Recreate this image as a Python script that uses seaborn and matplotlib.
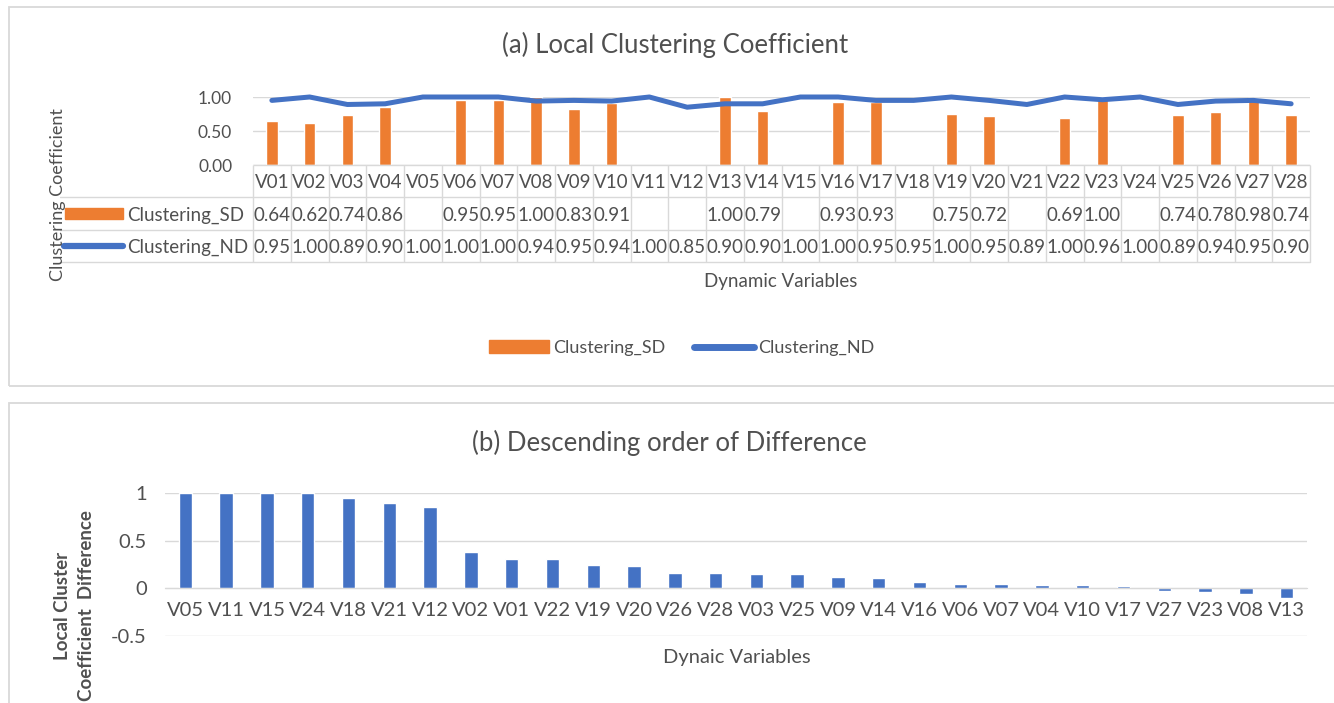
import numpy as np
import pandas as pd
import matplotlib
matplotlib.use("Agg")
import matplotlib.pyplot as plt
import matplotlib.transforms as mtransforms
from matplotlib.patches import Rectangle, Patch
from matplotlib.lines import Line2D
import seaborn as sns

# ---------------------------------------------------------------
# data
# ---------------------------------------------------------------
variables = ["V01", "V02", "V03", "V04", "V05", "V06", "V07", "V08", "V09", "V10",
             "V11", "V12", "V13", "V14", "V15", "V16", "V17", "V18", "V19", "V20",
             "V21", "V22", "V23", "V24", "V25", "V26", "V27", "V28"]
clustering_sd = [0.64, 0.62, 0.74, 0.86, None, 0.95, 0.95, 1.00, 0.83, 0.91,
                 None, None, 1.00, 0.79, None, 0.93, 0.93, None, 0.75, 0.72,
                 None, 0.69, 1.00, None, 0.74, 0.78, 0.98, 0.74]
clustering_nd = [0.95, 1.00, 0.89, 0.90, 1.00, 1.00, 1.00, 0.94, 0.95, 0.94,
                 1.00, 0.85, 0.90, 0.90, 1.00, 1.00, 0.95, 0.95, 1.00, 0.95,
                 0.89, 1.00, 0.96, 1.00, 0.89, 0.94, 0.95, 0.90]

diff_order = ["V05", "V11", "V15", "V24", "V18", "V21", "V12", "V02", "V01", "V22",
              "V19", "V20", "V26", "V28", "V03", "V25", "V09", "V14", "V16", "V06",
              "V07", "V04", "V10", "V17", "V27", "V23", "V08", "V13"]
diff_values = [1.00, 1.00, 1.00, 1.00, 0.95, 0.89, 0.85, 0.38, 0.31, 0.31,
               0.25, 0.23, 0.16, 0.16, 0.15, 0.15, 0.12, 0.11, 0.07, 0.05,
               0.05, 0.04, 0.03, 0.02, -0.03, -0.04, -0.06, -0.10]

# ---------------------------------------------------------------
# style
# ---------------------------------------------------------------
sns.set_style("white")
plt.rcParams['font.family'] = ['Lato', 'DejaVu Sans']

ORANGE = "#ED7D31"
BLUE = "#4472C4"
TXT = "#505050"
GRID = "#D9D9D9"

W, H = 1334, 703
fig = plt.figure(figsize=(W / 100, H / 100), dpi=100)

def fx(px):
    return px / W

def fy(px):
    return 1 - px / H

# panel frames
fig.add_artist(Rectangle((fx(9), fy(386)), fx(1340 - 9), (386 - 7) / H,
                         transform=fig.transFigure, fill=False, ec=GRID, lw=1.3))
fig.add_artist(Rectangle((fx(9), -0.05), fx(1340 - 9), fy(403) + 0.05,
                         transform=fig.transFigure, fill=False, ec=GRID, lw=1.3))

# ===============================================================
# (a) Local Clustering Coefficient
# ===============================================================
df_a = pd.DataFrame({"var": variables, "sd": clustering_sd, "nd": clustering_nd})

ax = fig.add_axes([fx(253), fy(165), fx(1310 - 253), (165 - 97) / H])
sns.barplot(data=df_a, x="var", y="sd", order=variables, color=ORANGE,
            saturation=1, width=0.3, errorbar=None, ax=ax)
sns.lineplot(x=np.arange(len(variables)), y=df_a["nd"], color=BLUE, lw=3.6,
             ax=ax, clip_on=False, solid_capstyle="round", zorder=5)
ax.set_xlim(-0.5, len(variables) - 0.5)
ax.set_ylim(0, 1)
ax.set_yticks([0, 0.5, 1])
ax.set_yticklabels(["0.00", "0.50", "1.00"])
ax.set_xticks([])
ax.set_xlabel("")
ax.set_ylabel("")
ax.tick_params(axis="y", length=0, pad=15, labelsize=12.5, labelcolor=TXT)
for s in ax.spines.values():
    s.set_visible(False)
ax.grid(axis="y", color=GRID, lw=1)
ax.set_axisbelow(True)

fig.text(fx(675), fy(45), "(a) Local Clustering Coefficient", ha="center", va="center",
         fontsize=18.5, color=TXT)

# data table under the plot
tab = fig.add_axes([fx(253), fy(262), fx(1310 - 253), (262 - 165) / H])
tab.set_xlim(-0.5, len(variables) - 0.5)
tab.set_ylim(3, 0)
tab.axis("off")
trans = mtransforms.blended_transform_factory(fig.transFigure, tab.transData)

tab.hlines(0, -0.5, len(variables) - 0.5, color=GRID, lw=1, clip_on=False)
for yy in [1, 2, 3]:
    tab.add_line(Line2D([fx(60), fx(1310)], [yy, yy], transform=trans, color=GRID,
                        lw=1, clip_on=False))
tab.vlines(np.arange(-0.5, len(variables)), 0, 3, color=GRID, lw=1, clip_on=False)

for i, v in enumerate(variables):
    tab.text(i, 0.55, v, ha="center", va="center", fontsize=13.5, color=TXT)
    if clustering_sd[i] is not None:
        tab.text(i, 1.55, f"{clustering_sd[i]:.2f}", ha="center", va="center",
                 fontsize=13.5, color=TXT)
    tab.text(i, 2.55, f"{clustering_nd[i]:.2f}", ha="center", va="center",
             fontsize=13.5, color=TXT)

tab.add_patch(Rectangle((fx(65), 1.5 - 0.18), fx(58), 0.36, transform=trans,
                        color=ORANGE, clip_on=False))
tab.add_line(Line2D([fx(64), fx(123)], [2.5, 2.5], transform=trans, color=BLUE,
                    lw=4.5, solid_capstyle="round", clip_on=False))
tab.text(fx(127), 1.55, "Clustering_SD", transform=trans, ha="left", va="center",
         fontsize=13.5, color=TXT)
tab.text(fx(127), 2.55, "Clustering_ND", transform=trans, ha="left", va="center",
         fontsize=13.5, color=TXT)

fig.text(fx(58), fy(195), "Clustering Coefficient", rotation=90, ha="center",
         va="center", fontsize=13, color=TXT)
fig.text(fx(781), fy(282), "Dynamic Variables", ha="center", va="center",
         fontsize=13.5, color=TXT)

handles = [Patch(color=ORANGE),
           Line2D([], [], color=BLUE, lw=5, solid_capstyle="round")]
fig.legend(handles, ["Clustering_SD", "Clustering_ND"], loc="center",
           bbox_to_anchor=(fx(682), fy(348)), ncol=2, frameon=False, fontsize=13,
           handlelength=3.3, handletextpad=0.25, columnspacing=1.6,
           labelcolor=TXT)

# ===============================================================
# (b) Descending order of Difference
# ===============================================================
ax2 = fig.add_axes([fx(165), fy(636), fx(1307 - 165), (636 - 493) / H])
sns.barplot(x=diff_order, y=diff_values, order=diff_order, color=BLUE,
            saturation=1, width=0.33, errorbar=None, ax=ax2)
ax2.set_xlim(-0.5, len(diff_order) - 0.5)
ax2.set_ylim(-0.5, 1)
ax2.set_yticks([-0.5, 0, 0.5, 1])
ax2.set_yticklabels(["-0.5", "0", "0.5", "1"])
ax2.grid(axis="y", color=GRID, lw=1)
ax2.set_axisbelow(True)
for s in ["top", "left", "right"]:
    ax2.spines[s].set_visible(False)
ax2.spines["bottom"].set_position(("data", 0))
ax2.spines["bottom"].set_color(GRID)
ax2.tick_params(axis="y", length=0, pad=13, labelsize=14.5, labelcolor=TXT)
ax2.tick_params(axis="x", length=0, pad=10, labelsize=14.5, labelcolor=TXT)
ax2.set_xlabel("")
ax2.set_ylabel("")

fig.text(fx(669), fy(443), "(b) Descending order of Difference", ha="center",
         va="center", fontsize=18.5, color=TXT)
fig.text(fx(737), fy(657), "Dynaic Variables", ha="center", va="center",
         fontsize=14.5, color=TXT)
fig.text(fx(75), fy(606), "Local Cluster\nCoefficient  Difference", rotation=90,
         ha="center", va="center", fontsize=13.5, fontweight="bold", color=TXT,
         multialignment="center", linespacing=1.5)

fig.savefig("out.png", dpi=100)
